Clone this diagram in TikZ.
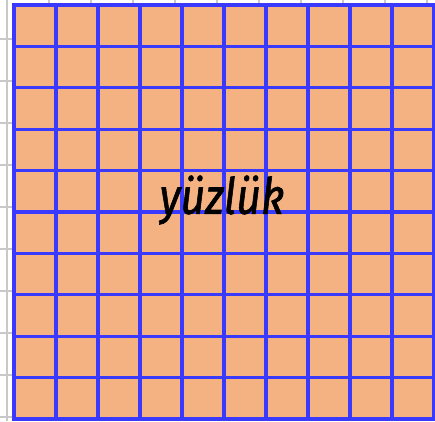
\documentclass[tikz,border=0pt]{standalone}
\usepackage{fontspec}
\newfontfamily\wordfont[ItalicFeatures={FakeBold=1.3}]{Fira Sans}
\definecolor{kare}{RGB}{244,178,131}
\definecolor{mavi}{RGB}{58,58,255}
\definecolor{kagit}{RGB}{200,200,200}

\begin{document}
\begin{tikzpicture}[
  x=1pt, y=-1pt,
  paper/.style={draw=kagit, line width=2pt},
  cell/.style={fill=kare, draw=mavi, line width=3.2pt},
  word/.style={font=\wordfont\itshape\fontsize{50}{50}\selectfont, xscale=0.86}
]
\useasboundingbox (0,0) rectangle (435,421);
% graph paper behind
\foreach \i in {0,...,10} {
  \draw[paper] (7+42*\i,0) -- (7+42*\i,421);
  \draw[paper] (0,39+42*\i) -- (435,39+42*\i);
}
% hundred block
\foreach \c in {0,...,9}
  \foreach \r in {0,...,9}
    \draw[cell] (14+42*\c,5+41.4*\r) rectangle ++(42,41.4);
\node[word] (yuz) at (222,200) {yüzlük};
\end{tikzpicture}
\end{document}
